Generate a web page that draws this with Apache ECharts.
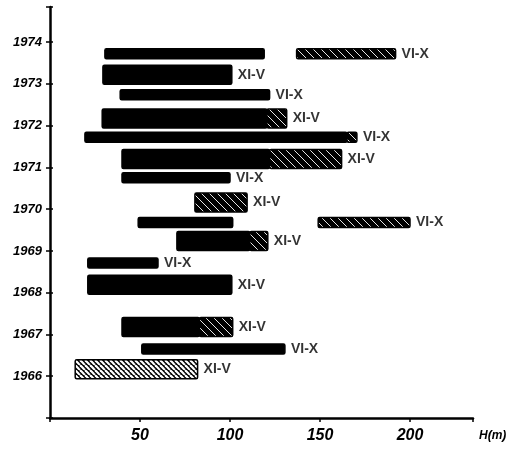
<!DOCTYPE html>
<html>
<head>
<meta charset="utf-8">
<script src="https://cdn.jsdelivr.net/npm/echarts@6/dist/echarts.min.js"></script>
<style>
html,body{margin:0;padding:0;background:#fff;}
#chart{width:517px;height:456px;}
</style>
</head>
<body>
<div id="chart"></div>
<script>
// Row positions on the year axis (fractional years) and their season label
const rowYears = [1973.72, 1973.22, 1972.74, 1972.17, 1971.72, 1971.20, 1970.75, 1970.16,
                  1969.68, 1969.24, 1968.71, 1968.19, 1967.18, 1966.65, 1966.17];
const rowSeasons = ['VI-X', 'XI-V', 'VI-X', 'XI-V', 'VI-X', 'XI-V', 'VI-X', 'XI-V',
                    'VI-X', 'XI-V', 'VI-X', 'XI-V', 'XI-V', 'VI-X', 'XI-V'];
// Segments: [row index, H start (m), H end (m), fill kind: S solid, H hatched, D dense hatch]
const segments = [
  [0, 30.5, 119, 'S'], [0, 137, 192, 'H'],
  [1, 29.4, 101, 'S'],
  [2, 39, 122, 'S'],
  [3, 29, 120.5, 'S'], [3, 120.5, 131.5, 'H'],
  [4, 19.4, 165, 'S'], [4, 165, 170.5, 'H'],
  [5, 40, 122, 'S'], [5, 122, 162, 'H'],
  [6, 40, 100, 'S'],
  [7, 80.5, 109.5, 'H'],
  [8, 49, 101.5, 'S'], [8, 149, 200, 'H'],
  [9, 70.5, 111, 'S'], [9, 111, 121, 'H'],
  [10, 21, 60, 'S'],
  [11, 21, 101, 'S'],
  [12, 40, 83, 'S'], [12, 83, 101.5, 'H'],
  [13, 51, 130.5, 'S'],
  [14, 14, 82, 'D']
];
const xTickValues = [50, 100, 150, 200];

function makePattern(size, lw) {
  const c = document.createElement('canvas');
  c.width = size; c.height = size;
  const g = c.getContext('2d');
  g.fillStyle = '#000'; g.fillRect(0, 0, size, size);
  g.strokeStyle = '#fff'; g.lineWidth = lw;
  for (const k of [-size, 0, size]) {
    g.beginPath(); g.moveTo(k, 0); g.lineTo(k + size, size); g.stroke();
  }
  return {type: 'pattern', image: c, repeat: 'repeat'};
}
const fills = {S: '#000', H: makePattern(8, 0.9), D: makePattern(5, 2.2)};

const segData = segments.map(s => [s[1], s[2], rowYears[s[0]], s[0]]);
const rowEnds = rowYears.map((y, i) => Math.max(...segments.filter(s => s[0] === i).map(s => s[2])));
const labelData = rowYears.map((y, i) => ({value: [rowEnds[i], y], label: {formatter: rowSeasons[i]}}));

const chart = echarts.init(document.getElementById('chart'), null, {renderer: 'canvas'});
const axisFont = {fontFamily: 'Liberation Sans', fontWeight: 'bold', fontStyle: 'italic', color: '#000'};
chart.setOption({
  animation: false,
  backgroundColor: '#fff',
  grid: {left: 50, right: 44, top: 7, bottom: 38},
  xAxis: [{
    type: 'value', min: 0, max: 235, interval: 50,
    axisLine: {show: true, lineStyle: {color: '#000', width: 2.5}},
    axisTick: {show: true, length: 4, lineStyle: {color: '#000', width: 1.5}},
    splitLine: {show: false},
    axisLabel: Object.assign({fontSize: 16, margin: 10,
      formatter: v => xTickValues.includes(v) ? String(v) : ''}, axisFont),
    name: 'H(m)', nameLocation: 'end', nameGap: 6,
    nameTextStyle: Object.assign({fontSize: 12, verticalAlign: 'top', padding: [12, 0, 0, 0]}, axisFont)
  }],
  yAxis: [{
    type: 'value', min: 1965, max: 1974.84, interval: 1,
    axisLine: {show: true, lineStyle: {color: '#000', width: 2.5}},
    axisTick: {show: true, length: 4, lineStyle: {color: '#000', width: 1.5}},
    splitLine: {show: false},
    axisLabel: Object.assign({fontSize: 13, margin: 8,
      formatter: v => (Number.isInteger(v) && v > 1965) ? String(v) : ''}, axisFont)
  }, {
    type: 'value', min: 1965, max: 1974.84, interval: 1, position: 'left',
    axisLine: {show: false},
    axisTick: {show: true, inside: true, length: 3, lineStyle: {color: '#000', width: 1.5}},
    axisLabel: {show: false}, splitLine: {show: false}
  }],
  series: [{
    type: 'custom',
    data: segData,
    encode: {x: [0, 1], y: 2},
    renderItem: function (params, api) {
      const row = api.value(3);
      const seg = segments[params.dataIndex];
      const p0 = api.coord([api.value(0), api.value(2)]);
      const p1 = api.coord([api.value(1), api.value(2)]);
      const h = rowSeasons[row] === 'XI-V' ? 19 : 10;
      return {
        type: 'rect',
        shape: {x: p0[0], y: p0[1] - h / 2, width: p1[0] - p0[0], height: h, r: 1.5},
        style: {fill: fills[seg[3]], stroke: '#000', lineWidth: 1.5}
      };
    }
  }, {
    type: 'scatter',
    data: labelData,
    symbolSize: 0,
    label: {show: true, position: 'right', distance: 6, fontSize: 14,
      fontFamily: 'Liberation Sans', fontWeight: 'bold', color: '#000'}
  }]
});
</script>
</body>
</html>
